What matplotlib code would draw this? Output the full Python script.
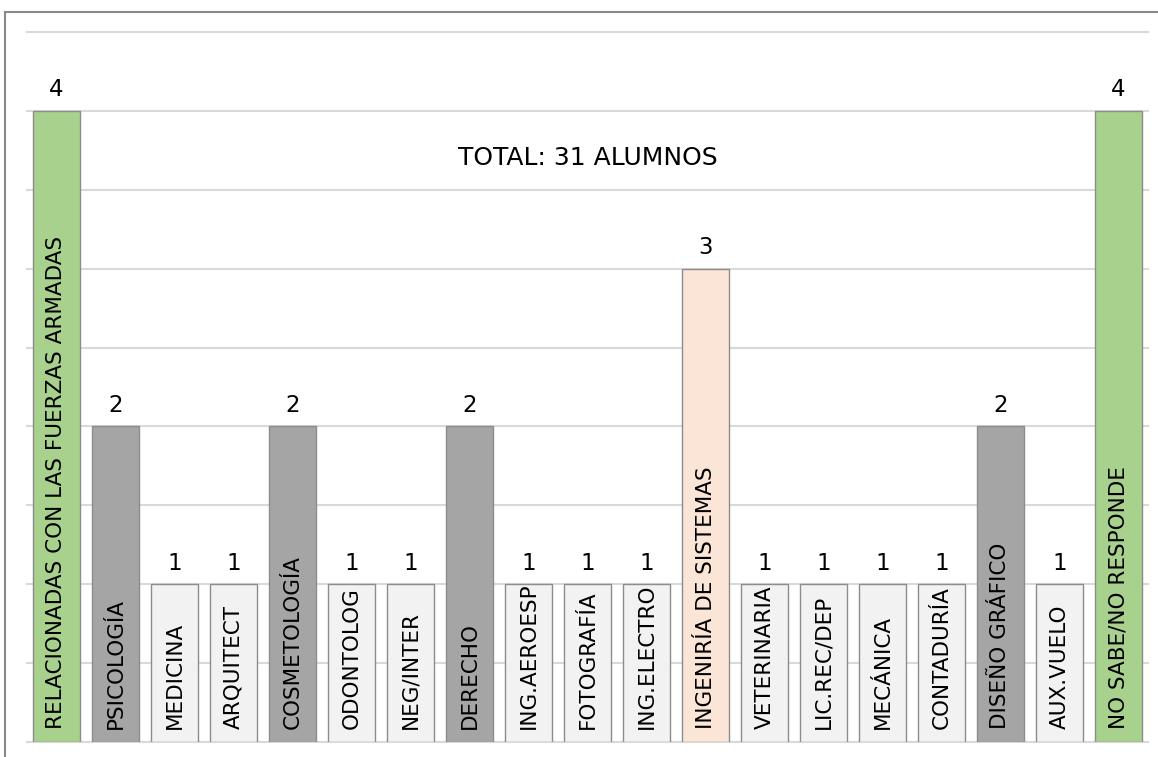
import matplotlib
matplotlib.use('Agg')
import matplotlib.pyplot as plt
from matplotlib.patches import Rectangle

# Datos del gráfico
carreras = ['RELACIONADAS CON LAS FUERZAS ARMADAS', 'PSICOLOGÍA', 'MEDICINA', 'ARQUITECT',
            'COSMETOLOGÍA', 'ODONTOLOG', 'NEG/INTER', 'DERECHO', 'ING.AEROESP',
            'FOTOGRAFÍA', 'ING.ELECTRO', 'INGENIRÍA DE SISTEMAS', 'VETERINARIA',
            'LIC.REC/DEP', 'MECÁNICA', 'CONTADURÍA', 'DISEÑO GRÁFICO', 'AUX.VUELO',
            'NO SABE/NO RESPONDE']
alumnos = [4, 2, 1, 1, 2, 1, 1, 2, 1, 1, 1, 3, 1, 1, 1, 1, 2, 1, 4]
colores = ['#a9d18e', '#a5a5a5', '#f2f2f2', '#f2f2f2', '#a5a5a5', '#f2f2f2', '#f2f2f2',
           '#a5a5a5', '#f2f2f2', '#f2f2f2', '#f2f2f2', '#fbe5d6', '#f2f2f2', '#f2f2f2',
           '#f2f2f2', '#f2f2f2', '#a5a5a5', '#f2f2f2', '#a9d18e']
total_texto = 'TOTAL: 31 ALUMNOS'

W, H = 1158, 757
fig = plt.figure(figsize=(W / 100, H / 100), dpi=100)
ax = fig.add_axes([27 / W, (H - 742) / H, (1148 - 27) / W, (742 - 32) / H])

x = range(len(carreras))
bars = ax.bar(x, alumnos, width=0.81, color=colores, edgecolor='#8c8c8c',
              linewidth=1.0, zorder=3)

# Etiquetas dentro de las barras y valores encima
for i, bar in enumerate(bars):
    ax.text(bar.get_x() + bar.get_width() / 2, 0.08, carreras[i], rotation=90,
            ha='center', va='bottom', fontsize=15.5, color='black', zorder=4)
    ax.annotate(str(alumnos[i]), (bar.get_x() + bar.get_width() / 2, bar.get_height()),
                xytext=(0, 7), textcoords='offset points', ha='center', va='bottom',
                fontsize=16.5, color='black')

ax.text(9, 3.70, total_texto, ha='center', va='center', fontsize=18, color='black')

ax.set_xlim(-0.5, len(carreras) - 0.5)
ax.set_ylim(0, 4.5)
ax.set_yticks([i * 0.5 for i in range(10)])
ax.grid(axis='y', color='#d9d9d9', linewidth=1.5, zorder=0)
for gl in ax.get_ygridlines():
    gl.set_clip_on(False)
ax.tick_params(left=False, bottom=False, labelleft=False, labelbottom=False)
for s in ax.spines.values():
    s.set_visible(False)

# Marco exterior
fig.patches.append(Rectangle((5 / W, -0.1), 1.2, (H - 12) / H + 0.1,
                             transform=fig.transFigure, fill=False,
                             edgecolor='#888888', linewidth=1.5))

fig.savefig('out.png', dpi=100)
